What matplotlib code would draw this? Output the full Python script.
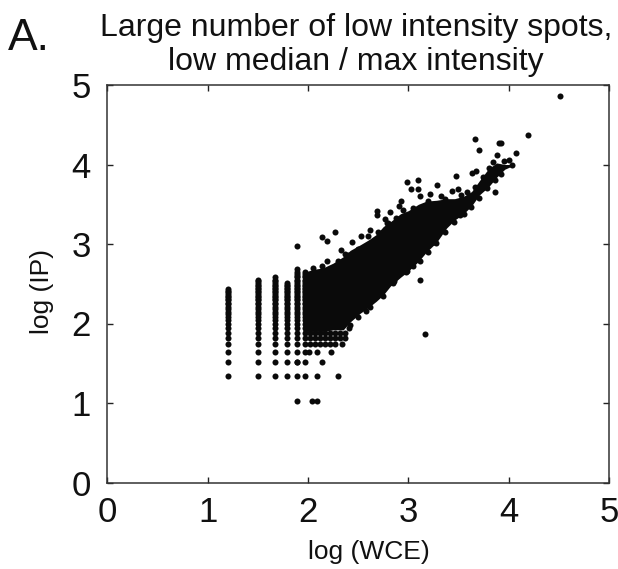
import matplotlib
matplotlib.use('Agg')
import matplotlib.pyplot as plt

# discrete IP levels seen in the vertical stripes
ip_levels = [1.34,1.52,1.64,1.74,1.82,1.88,1.94,1.99,2.04,2.08,2.12,2.15,2.18,2.21,2.24,2.26,2.29,2.31,
             2.33,2.35,2.37,2.39,2.41,2.43,2.45,2.47,2.49,2.51,2.53,2.55,2.58,2.60,2.62,2.65,2.69]
stripe_x = [1.20,1.50,1.67,1.79,1.89,1.97]
stripe_top = [2.44,2.55,2.58,2.52,2.70,2.65]

# dense part of the cloud, read as lower and upper edge
blob_x = [1.95,2.05,2.15,2.25,2.35,2.42,2.52,2.60,2.68,2.75,2.82,2.92,3.00,3.10,3.18,3.28,3.38,3.46,3.55,3.63,3.71,3.80,3.88,3.96,4.03]
blob_high = [2.64,2.68,2.70,2.76,2.84,2.92,2.99,3.05,3.12,3.22,3.28,3.38,3.42,3.50,3.54,3.55,3.57,3.57,3.60,3.66,3.80,3.95,4.02,4.00,4.00]
blob_low = [1.90,1.90,1.90,1.92,1.92,2.02,2.13,2.20,2.28,2.36,2.47,2.58,2.66,2.78,2.90,3.02,3.20,3.30,3.38,3.48,3.62,3.72,3.84,3.94,3.98]

# single points around the cloud
wce = [4.51,4.19,3.66,3.90,3.92,3.70,4.07,3.88,4.03,4.00,3.95,3.86,3.47,3.63,3.67,3.10,2.99,3.03,3.10,3.29,
       3.22,3.43,3.49,3.12,3.33,2.93,2.91,2.95,2.69,2.69,2.82,2.77,2.86,2.79,2.62,2.60,2.53,2.27,2.14,2.19,
       2.44,2.33,2.37,2.19,2.14,2.23,3.17,3.12,3.26,2.99,2.86,3.51,
       1.89,1.89,2.04,2.09,
       2.01,2.09,2.23,1.89,2.14,2.09,2.30,
       2.02,2.07,2.12,2.17,2.22,2.27,2.34,
       2.02,2.07,2.12,2.17,2.22,2.27,2.32,2.37,
       2.02,2.07,2.12,2.17,2.22,2.27,2.32,2.37,2.41]
ip = [4.86,4.37,4.32,4.27,4.27,4.18,4.14,4.12,4.00,4.06,4.04,3.65,3.85,3.89,3.92,3.80,3.78,3.69,3.69,3.74,
      3.63,3.67,3.69,3.60,3.60,3.54,3.48,3.43,3.41,3.36,3.40,3.32,3.25,3.26,3.17,3.10,3.10,3.15,3.09,3.04,
      3.03,2.92,2.87,2.78,2.72,2.69,1.87,2.55,3.02,2.66,2.53,3.36,
      2.97,1.03,1.03,1.03,
      1.64,1.64,1.64,1.52,1.52,1.34,1.34,
      1.74,1.74,1.74,1.74,1.74,1.74,1.74,
      1.82,1.82,1.82,1.82,1.82,1.82,1.82,1.82,
      1.88,1.88,1.88,1.88,1.88,1.88,1.88,1.88,1.94]

# points sitting on the rim of the cloud
rim_wce = [2.42,2.50,2.58,2.62,2.75,2.85,2.98,3.05,3.12,3.20,3.28,3.36,3.45,3.55,3.62,3.70,3.78,3.86,3.92,
           2.05,2.30,2.40,2.50,2.70,2.80,2.88,3.05,3.20,3.36,3.52,3.58,3.66,3.74,3.80,3.84]
rim_ip = [1.98,2.08,2.16,2.21,2.34,2.51,2.65,2.72,2.78,2.90,3.01,3.15,3.28,3.38,3.47,3.58,3.70,3.80,3.88,
          2.70,2.78,2.86,2.94,3.15,3.26,3.33,3.45,3.54,3.57,3.62,3.66,3.72,3.84,3.95,4.03]

ticks = [0,1,2,3,4,5]

plt.rcParams['font.family'] = ['Liberation Sans', 'DejaVu Sans']

fig = plt.figure(figsize=(6.18,5.69), dpi=100)
ax = fig.add_axes([107.5/618, 1-482.5/569, 501.5/618, 397.5/569])

xs = []
ys = []
for x, top in zip(stripe_x, stripe_top):
    for lev in ip_levels:
        if lev <= top:
            xs.append(x)
            ys.append(lev)
ax.scatter(xs, ys, s=19, color='#0a0a0a', linewidths=0, zorder=3)
ax.fill_between(blob_x, blob_low, blob_high, color='#0a0a0a', linewidth=0, zorder=3)
ax.scatter(wce, ip, s=19, color='#0a0a0a', linewidths=0, zorder=3)
ax.scatter(rim_wce, rim_ip, s=19, color='#0a0a0a', linewidths=0, zorder=3)

ax.set_xlim(0,5)
ax.set_ylim(0,5)
ax.set_xticks(ticks)
ax.set_yticks(ticks)
ax.tick_params(direction='in', top=True, right=True, length=4.5, width=1, color='#222222', labelcolor='#111111', labelsize=25)
ax.tick_params(axis='x', pad=10)
ax.tick_params(axis='y', pad=12)
for s in ax.spines.values():
    s.set_linewidth(1.1)
    s.set_color('#333333')

fig.text(369/618, 1-552/569, 'log (WCE)', fontsize=19, color='#111111', ha='center', va='center')
fig.text(42/618, 1-291/569, 'log (IP)', fontsize=19, color='#111111', ha='center', va='center', rotation=90)
fig.text(356/618, 1-28/569, 'Large number of low intensity spots,', fontsize=23, color='#111111', ha='center', va='center')
fig.text(356/618, 1-62/569, 'low median / max intensity', fontsize=23, color='#111111', ha='center', va='center')
fig.text(8/618, 1-38/569, 'A.', fontsize=32, color='#111111', ha='left', va='center')

fig.savefig('out.png', dpi=100)
